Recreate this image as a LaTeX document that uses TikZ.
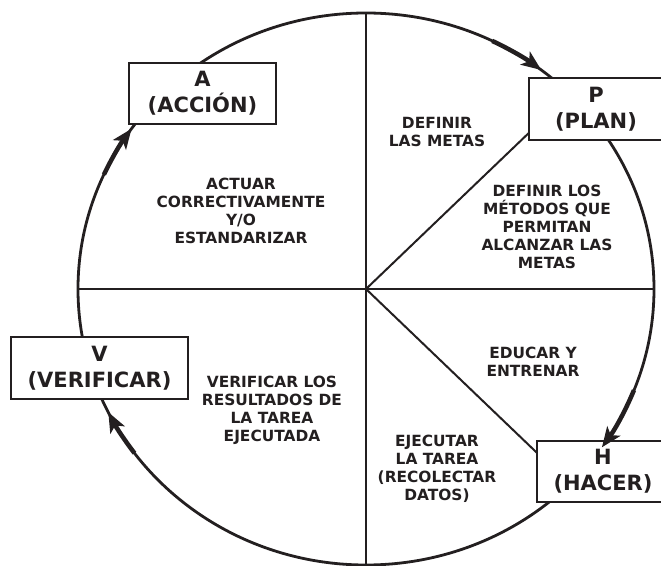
\documentclass[tikz,border=0pt]{standalone}
\usepackage{fontspec}
\setmainfont{DejaVu Sans}
\usetikzlibrary{arrows.meta}
\definecolor{tinta}{HTML}{231F20}

\begin{document}
\begin{tikzpicture}[x=1pt,y=1pt,
  caja/.style={draw=tinta, line width=1.3, fill=white, inner sep=0pt, align=center,
    text=tinta, font=\fontsize{21}{26}\selectfont\bfseries},
  texto/.style={align=center, text=tinta, font=\fontsize{15.4}{18}\selectfont\bfseries},
  flecha/.style={tinta, line width=4.5pt, -{Stealth[length=20pt, width=16pt, inset=5pt]}}]
  \useasboundingbox (-366,-276) rectangle (295,289);
  \coordinate (ctr) at (0,0);

  % Circulo del ciclo
  \draw[tinta, line width=2.8] (ctr) ellipse [x radius=288, y radius=276];

  % Divisiones del circulo
  \foreach \ang/\nom in {90/norte, 45/noreste, 0/este, -45/sureste, -90/sur, 180/oeste}
    \coordinate (\nom) at (\ang:288 and 276);
  \draw[tinta, line width=2] (norte) -- (sur);
  \draw[tinta, line width=2] (oeste) -- (este);
  \draw[tinta, line width=2] (ctr) -- (noreste);
  \draw[tinta, line width=2] (ctr) -- (sureste);

  % Etapas
  \node[caja, minimum width=147, minimum height=61] (cajaA) at (-163.5,195.5) {A\\(ACCIÓN)};
  \node[caja, minimum width=134, minimum height=62] (cajaP) at (230,180) {P\\(PLAN)};
  \node[caja, minimum width=132, minimum height=61] (cajaH) at (237,-182.5) {H\\(HACER)};
  \node[caja, minimum width=177, minimum height=62] (cajaV) at (-266.5,-79) {V\\(VERIFICAR)};

  % Textos de cada sector
  \node[texto] (metas) at (71,157) {DEFINIR\\LAS METAS};
  \node[texto] (metodos) at (181,62.5) {DEFINIR LOS\\MÉTODOS QUE\\PERMITAN\\ALCANZAR LAS\\METAS};
  \node[texto] (educar) at (167,-72.5) {EDUCAR Y\\ENTRENAR};
  \node[texto] (ejecutar) at (71,-180) {EJECUTAR\\LA TAREA\\(RECOLECTAR\\DATOS)};
  \node[texto] (verificar) at (-94,-121) {VERIFICAR LOS\\RESULTADOS DE\\LA TAREA\\EJECUTADA};
  \node[texto] (actuar) at (-125,78.5) {ACTUAR\\CORRECTIVAMENTE\\Y/O\\ESTANDARIZAR};

  % Flechas del ciclo
  \foreach \a/\b in {64/52.5, -21.5/-35, 216.5/206.5, 155.5/144.5}
    \draw[flecha] (\a:288 and 276) arc[start angle=\a, end angle=\b, x radius=288, y radius=276];
\end{tikzpicture}
\end{document}
